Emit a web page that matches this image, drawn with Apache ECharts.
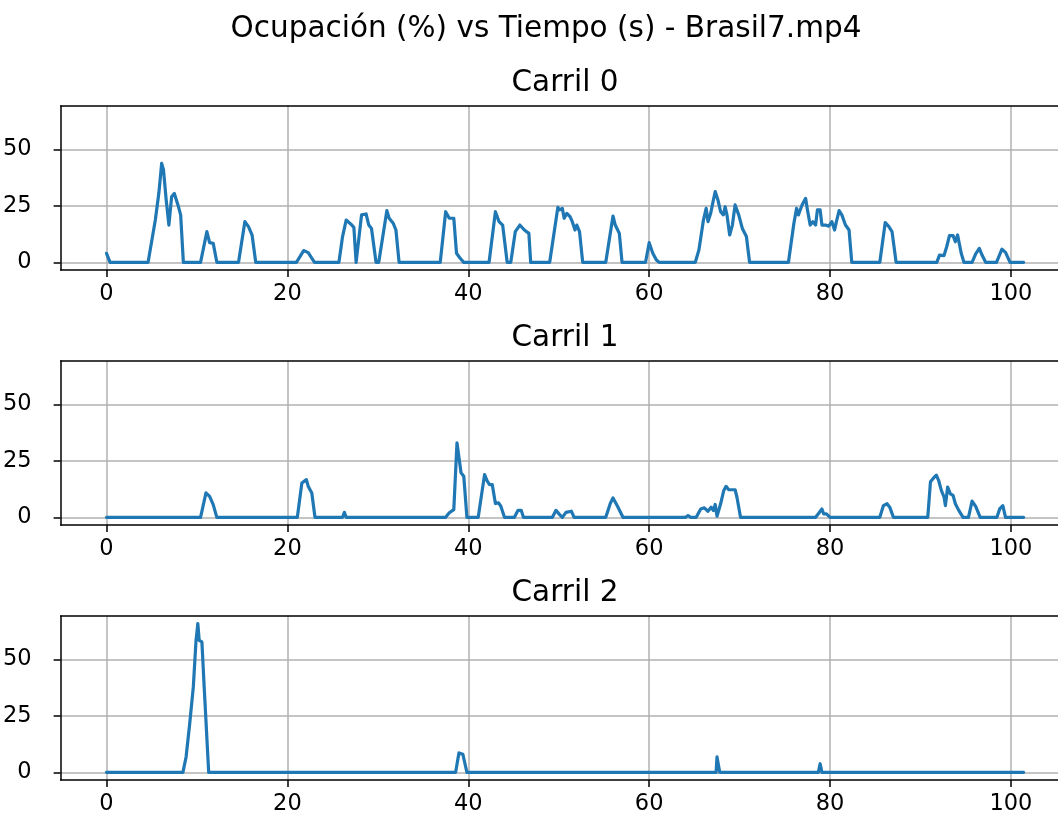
<!DOCTYPE html>
<html>
<head>
<meta charset="utf-8">
<script src="https://cdn.jsdelivr.net/npm/echarts@6/dist/echarts.min.js"></script>
<style>
html, body { margin: 0; padding: 0; background: #fff; }
#chart { width: 1058px; height: 819px; }
</style>
</head>
<body>
<div id="chart"></div>
<script>
// ---- Data (time s, occupancy %) ----
const suptitle = 'Ocupación (%) vs Tiempo (s) - Brasil7.mp4';
const laneTitles = ['Carril 0', 'Carril 1', 'Carril 2'];
const xTicks = [0, 20, 40, 60, 80, 100];
const yTicks = [0, 25, 50];

const carril0 = [
  [0,4],[0.4,0],[4.6,0],[5.4,18.7],[5.8,31],[6.1,43.8],[6.3,41],[6.6,27.6],[6.9,16.5],[7.2,29],[7.5,30.5],[7.9,25.4],[8.2,21],[8.5,0],
  [10.4,0],[11.1,13.6],[11.4,8.7],[11.8,8.4],[12.2,0],
  [14.6,0],[15.3,18],[15.7,15.8],[16.1,12],[16.5,0],
  [21.0,0],[21.8,5.2],[22.3,4.3],[23.0,0],
  [25.7,0],[26.1,11.4],[26.5,18.7],[27.0,17],[27.35,15.5],[27.6,0],[28.2,21],[28.7,21.4],[29.0,16.5],[29.3,15],[29.8,0],[30.1,0],[31.0,22.9],[31.25,19.5],[31.7,17.3],[32.0,14.3],[32.35,0],
  [36.9,0],[37.5,22.4],[37.9,19.5],[38.1,20.2],[38.4,19.5],[38.7,4],[39.1,1.8],[39.5,0],
  [42.3,0],[43.0,22.4],[43.4,18],[43.8,16.5],[44.3,0],[44.7,0],[45.2,13.6],[45.7,16.5],[46.2,14.3],[46.7,12.8],[46.9,0],
  [49.0,0],[49.9,24.3],[50.1,23.2],[50.4,23.9],[50.6,19.5],[50.9,21.7],[51.25,20.2],[51.5,18],[51.8,14.3],[52.0,16.5],[52.3,13.6],[52.65,0],
  [55.2,0],[56.0,20.5],[56.25,16.5],[56.7,12.8],[57.0,0],
  [59.6,0],[60.0,8.7],[60.4,4],[60.8,1],[61.1,0],
  [65.1,0],[65.5,5.5],[66.0,18.7],[66.3,23.9],[66.5,18],[66.8,21.7],[67.1,27.6],[67.3,31.3],[67.6,27.6],[67.9,22.4],[68.2,21],[68.4,24.6],[68.6,21],[68.9,12.1],[69.2,16.5],[69.5,25.4],[69.9,21],[70.3,15],[70.5,15],[70.75,11.4],[71.1,0],
  [75.4,0],[76.0,17.3],[76.3,23.9],[76.5,21],[76.9,25.4],[77.3,28.3],[77.5,23.2],[77.8,16.5],[78.1,18],[78.4,16.5],[78.6,23.2],[78.9,23.2],[79.1,16.5],[79.5,16.5],[79.85,16],[80.2,18],[80.5,14.3],[80.7,18],[81.0,22.9],[81.3,21],[81.7,16.5],[82.1,14.3],[82.4,0],
  [85.5,0],[86.1,17.6],[86.5,15.8],[86.85,13.6],[87.3,0],
  [91.8,0],[92.1,3.2],[92.6,3],[92.9,7],[93.2,11.8],[93.6,11.8],[93.85,9.1],[94.1,12.1],[94.5,4],[94.8,0],
  [95.7,0],[96.1,3.7],[96.5,6.2],[96.8,3.2],[97.2,0],
  [98.4,0],[99.0,5.8],[99.4,4.4],[99.9,0],[101.4,0]
];

const carril1 = [
  [0,0],[10.4,0],[11.0,10.8],[11.4,9.3],[11.8,5.6],[12.2,0],
  [21.1,0],[21.6,15.2],[22.1,16.7],[22.3,13.8],[22.7,10.8],[23.05,0],
  [26.1,0],[26.3,2.2],[26.5,0],
  [37.5,0],[37.9,2],[38.4,3.4],[38.75,33],[39.0,25.6],[39.2,19.7],[39.5,18.2],[39.85,0],
  [41.1,0],[41.8,18.9],[42.1,16],[42.35,14.5],[42.65,14.5],[43.0,6.1],[43.35,6.4],[43.6,4.9],[44.0,0],
  [45.1,0],[45.5,3.1],[45.85,3.1],[46.1,0],
  [49.3,0],[49.7,3.1],[50.1,1.2],[50.4,0],[50.8,2.2],[51.4,2.7],[51.7,0],
  [55.2,0],[55.7,6.1],[56.0,8.6],[56.5,4.9],[57.1,0],
  [64.0,0],[64.3,0.8],[64.6,0],[65.2,0],[65.7,3.7],[66.1,4.2],[66.5,2.7],[66.85,4.5],[67.1,3],[67.3,5.7],[67.5,0.5],[67.9,6],[68.25,11.9],[68.5,13.7],[68.8,12.2],[69.2,12.2],[69.5,12.2],[69.7,9],[70.1,0],
  [78.4,0],[78.75,1.8],[79.1,3.7],[79.3,1.5],[79.6,1.5],[80.0,0],
  [85.5,0],[85.9,5.2],[86.3,6],[86.6,4.5],[87.0,0],
  [90.8,0],[91.1,15.7],[91.4,17.2],[91.75,18.7],[92.0,16.4],[92.3,11.9],[92.6,9],[92.75,5.2],[93.0,13.4],[93.3,10.4],[93.6,9.7],[93.85,6],[94.2,3.3],[94.7,0],
  [95.3,0],[95.7,7.2],[96.1,4.8],[96.6,0],
  [98.45,0],[98.75,3.7],[99.1,5.2],[99.4,0],[101.4,0]
];

const carril2 = [
  [0,0],[8.45,0],[8.8,6.8],[9.2,21.5],[9.6,37.8],[9.9,58.4],[10.1,65.8],[10.25,58.4],[10.55,57.7],[10.8,37.8],[11.3,0],
  [38.6,0],[38.97,8.6],[39.4,8],[39.85,0],
  [67.4,0],[67.5,6.8],[67.7,6.8],[67.8,0],
  [78.7,0],[78.9,3.8],[79.1,0],[101.4,0]
];

const lanes = [carril0, carril1, carril2];

// ---- Layout ----
const FONT = '"DejaVu Sans", "Liberation Sans", sans-serif';
const gridLeft = 60, gridWidth = 998, gridHeight = 164;
const gridTops = [106, 361, 616];
const titleCenterX = 565;
const xMin = -5.07, xMax = 105.2;
const yMin = -3.4, yMax = 69.2;
const spine = { show: true, onZero: false, lineStyle: { color: '#000', width: 1.5 } };
const tickFont = 22.5;

const grids = [], xAxes = [], yAxes = [], series = [], graphics = [];

graphics.push({
  type: 'text', x: 546, y: 29, silent: true,
  style: { text: suptitle, font: '29.5px ' + FONT, fill: '#000', align: 'center', verticalAlign: 'middle' }
});

lanes.forEach((data, i) => {
  grids.push({
    left: gridLeft, top: gridTops[i], width: gridWidth, height: gridHeight,
    show: false, containLabel: false
  });
  xAxes.push({
    gridIndex: i, type: 'value', position: 'bottom', min: xMin, max: xMax,
    axisLine: spine,
    axisTick: { show: true, length: 7, lineStyle: { color: '#000', width: 1.5 }, customValues: xTicks },
    axisLabel: { show: true, customValues: xTicks, fontSize: tickFont, color: '#000', fontFamily: FONT, margin: 13 },
    splitLine: { show: true, lineStyle: { color: '#b0b0b0', width: 1.5 } }
  });
  yAxes.push({
    gridIndex: i, type: 'value', position: 'left', min: yMin, max: yMax,
    axisLine: spine,
    axisTick: { show: true, length: 7, lineStyle: { color: '#000', width: 1.5 }, customValues: yTicks },
    axisLabel: { show: true, customValues: yTicks, fontSize: tickFont, color: '#000', fontFamily: FONT, margin: 29 },
    splitLine: { show: true, lineStyle: { color: '#b0b0b0', width: 1.5 } }
  });
  series.push({
    type: 'line', xAxisIndex: i, yAxisIndex: i, data: data,
    showSymbol: false, symbol: 'none', clip: true,
    lineStyle: { color: '#1f77b4', width: 3.2, join: 'round', cap: 'round' },
    itemStyle: { color: '#1f77b4' },
    z: 5
  });
  graphics.push({
    type: 'text', x: titleCenterX, y: gridTops[i] - 23, silent: true,
    style: { text: laneTitles[i], font: '29.5px ' + FONT, fill: '#000', align: 'center', verticalAlign: 'middle' }
  });
});

// top spines (matplotlib-style frame)
lanes.forEach((d, i) => {
  xAxes.push({
    gridIndex: i, type: 'value', position: 'top', min: xMin, max: xMax,
    axisLine: spine, axisTick: { show: false }, axisLabel: { show: false }, splitLine: { show: false }
  });
});

const chart = echarts.init(document.getElementById('chart'), null, { renderer: 'canvas' });
chart.setOption({
  backgroundColor: '#fff',
  animation: false,
  textStyle: { fontFamily: FONT },
  grid: grids,
  xAxis: xAxes,
  yAxis: yAxes,
  series: series,
  graphic: graphics
});
</script>
</body>
</html>
